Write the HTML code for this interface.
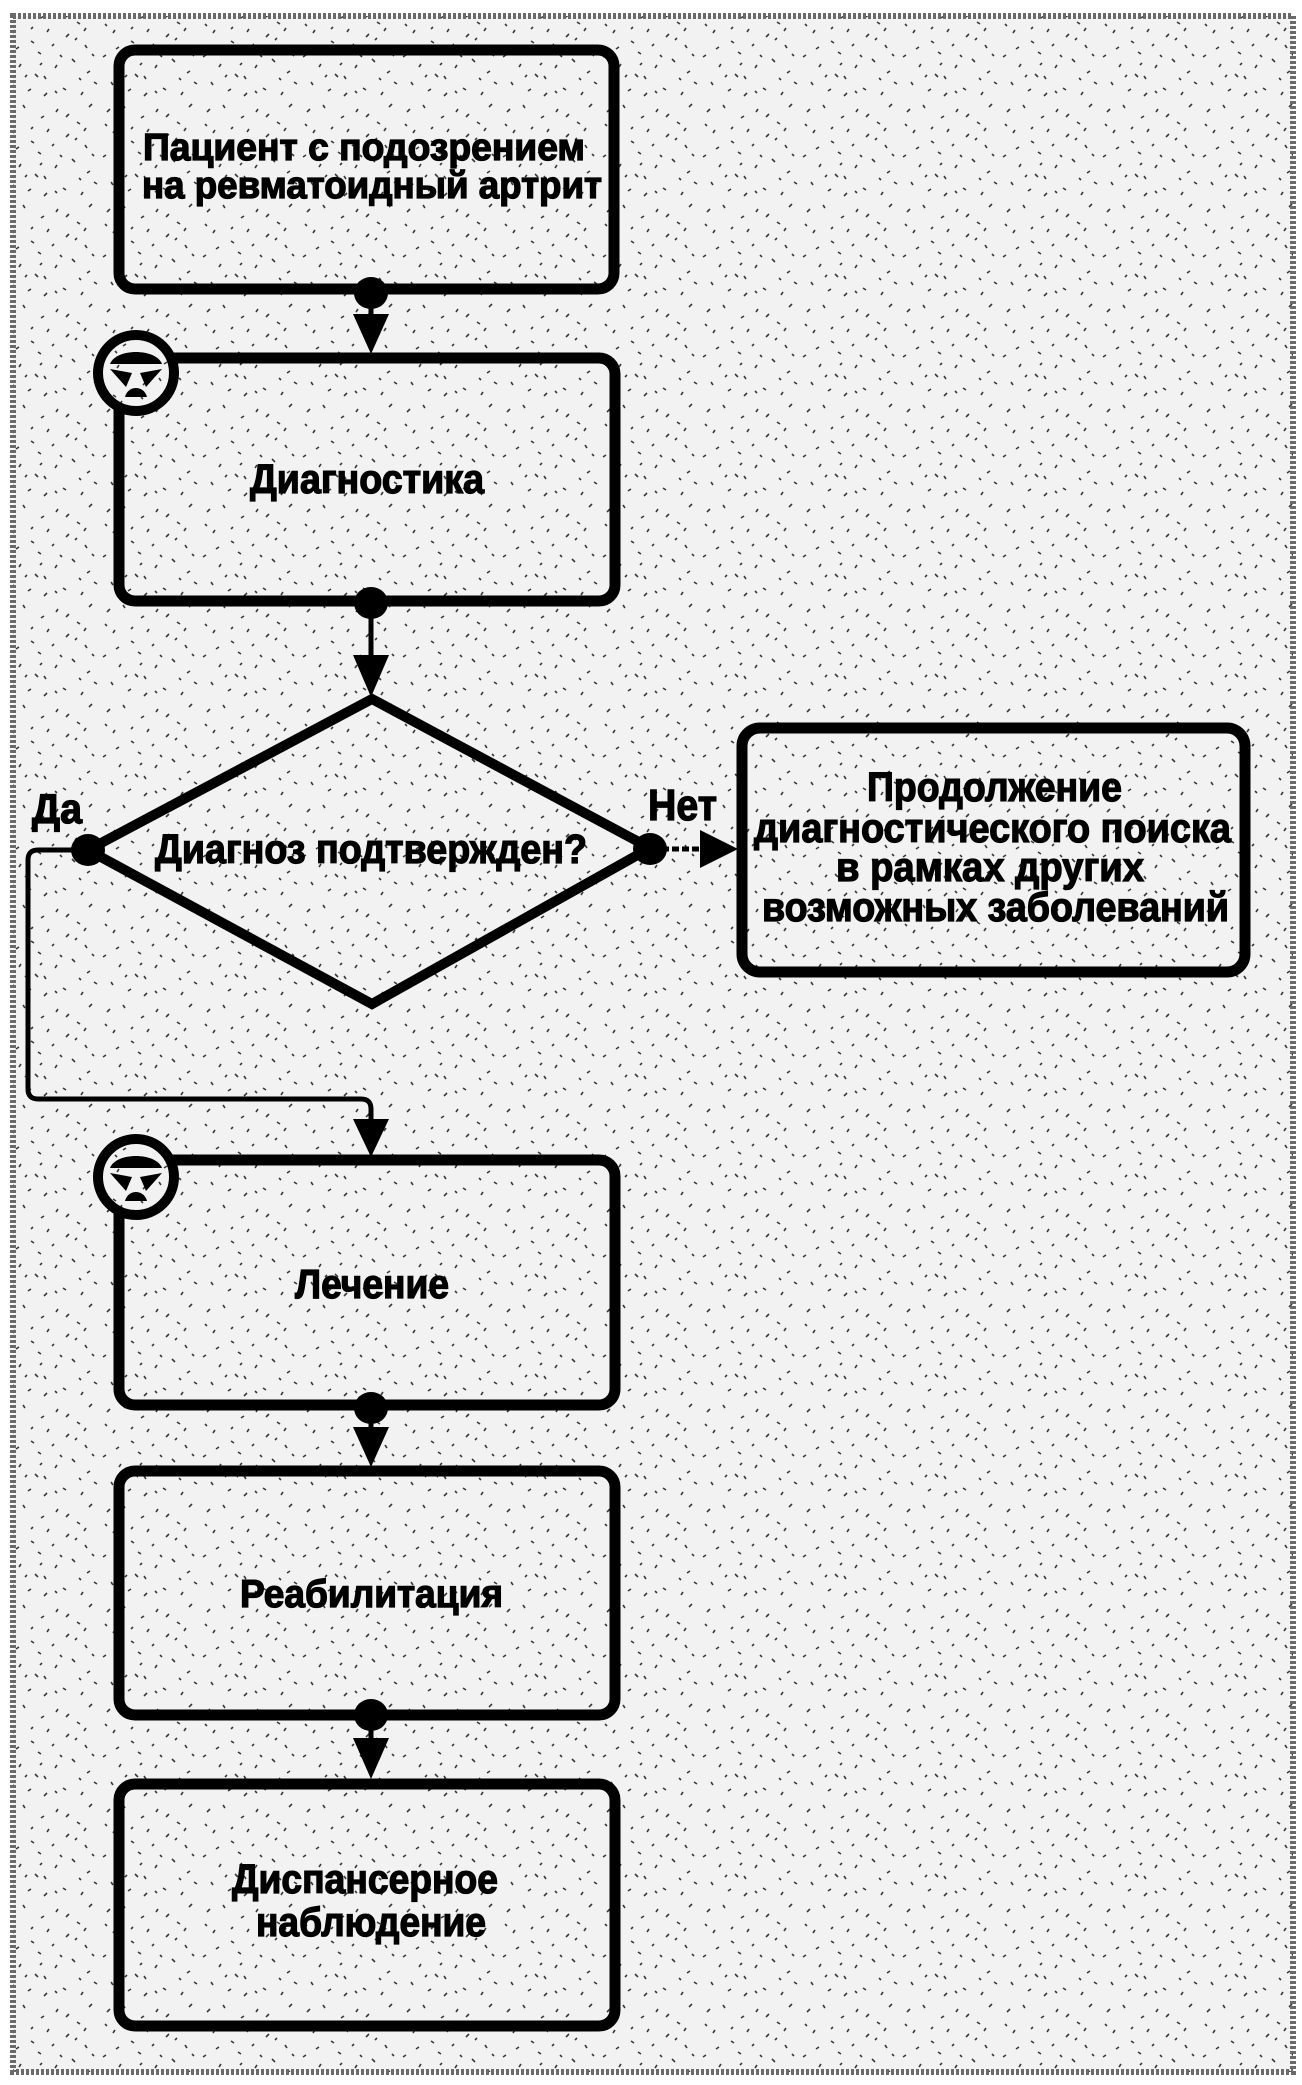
<!DOCTYPE html>
<html>
<head>
<meta charset="utf-8">
<style>
  html, body { margin: 0; padding: 0; background: #fff; }
  body { width: 1302px; height: 2085px; overflow: hidden; }
  svg { display: block; }
  text { font-family: "Liberation Sans", "DejaVu Sans", sans-serif; font-weight: bold; fill: #000; stroke: #000; stroke-width: 1.3; }
</style>
</head>
<body>
<svg width="1302" height="2085" viewBox="0 0 1302 2085" xmlns="http://www.w3.org/2000/svg">
  <defs>
    <pattern id="bg" patternUnits="userSpaceOnUse" width="100" height="100">
      <rect width="100" height="100" fill="#f2f2f2"/>
      <path d="M7 12l3 -3 M23 5l2 3 M41 18l3 -2 M58 9l-2 3 M77 22l3 2 M92 4l-3 3 M13 33l2 -3 M31 41l3 2 M49 29l-2 3 M66 37l3 -3 M85 45l2 3 M3 57l3 -2 M21 64l-2 3 M38 52l3 2 M55 68l2 -3 M72 59l3 3 M90 71l-3 2 M11 82l2 3 M28 91l3 -2 M46 79l-2 -3 M63 88l3 2 M81 95l2 -3 M97 84l-3 -2 M35 74l3 3 M52 46l2 -2 M69 14l-3 3 M16 49l3 -2 M86 28l-2 3 M44 96l3 -3 M60 55l2 2 M5 24l2 2 M33 27l-2 2 M75 40l2 -2 M94 56l-2 -2 M25 77l2 -2 M57 93l-2 -2 M79 78l2 2 M42 63l-2 2" stroke="#3a3a3a" stroke-width="1.6" fill="none"/>
    </pattern>
  </defs>

  <rect width="1302" height="2085" fill="#fff"/>
  <rect x="13" y="16" width="1280" height="2056" fill="url(#bg)" stroke="#6a6a6a" stroke-width="6" stroke-dasharray="3 2"/>

  <!-- Boxes -->
  <g fill="none" stroke="#000" stroke-width="11">
    <rect x="119" y="50" width="495" height="239" rx="16"/>
    <rect x="119" y="358" width="496" height="243" rx="16"/>
    <rect x="742" y="728" width="503" height="244" rx="18"/>
    <rect x="119" y="1160" width="496" height="245" rx="16"/>
    <rect x="119" y="1471" width="496" height="244" rx="16"/>
    <rect x="119" y="1784" width="496" height="242" rx="16"/>
    <polygon points="372,699 650,848 372,1004 88,850" stroke-width="10" stroke-linejoin="miter"/>
  </g>

  <!-- Connectors -->
  <g stroke="#000" stroke-width="5" fill="none">
    <path d="M371 293V320"/>
    <path d="M371 603V660"/>
    <path d="M88 850H38Q28 850 28 860V1089Q28 1099 38 1099H361Q371 1099 371 1109V1125"/>
    <path d="M662 849H705" stroke-dasharray="7 3"/>
    <path d="M371 1408V1430"/>
    <path d="M371 1715V1740"/>
  </g>

  <!-- Arrowheads and dots -->
  <g fill="#000">
    <polygon points="353,314 389,314 371,354"/>
    <polygon points="353,655 389,655 371,697"/>
    <polygon points="353,1119 389,1119 371,1157"/>
    <polygon points="700,830 700,868 738,849"/>
    <polygon points="353,1427 389,1427 371,1467"/>
    <polygon points="353,1738 389,1738 371,1779"/>
    <ellipse cx="371" cy="293" rx="17" ry="16"/>
    <ellipse cx="371" cy="603" rx="17" ry="16"/>
    <ellipse cx="88" cy="850" rx="17" ry="16"/>
    <ellipse cx="650" cy="849" rx="17" ry="16"/>
    <ellipse cx="371" cy="1408" rx="17" ry="16"/>
    <ellipse cx="371" cy="1715" rx="17" ry="16"/>
  </g>

  <!-- Icons -->
  <g transform="translate(136,373)">
    <circle r="38" fill="url(#bg)" stroke="#000" stroke-width="10"/>
    <path d="M-26 -9 C-20 -25 20 -25 26 -9 Z" fill="#000"/>
    <polygon points="-26,-4 -4,0 -10,14" fill="#000"/>
    <polygon points="26,-4 4,0 10,14" fill="#000"/>
    <path d="M-11 24 C-8 12 8 12 11 24 Z" fill="#000"/>
  </g>
  <g transform="translate(136,1177)">
    <circle r="38" fill="url(#bg)" stroke="#000" stroke-width="10"/>
    <path d="M-26 -9 C-20 -25 20 -25 26 -9 Z" fill="#000"/>
    <polygon points="-26,-4 -4,0 -10,14" fill="#000"/>
    <polygon points="26,-4 4,0 10,14" fill="#000"/>
    <path d="M-11 24 C-8 12 8 12 11 24 Z" fill="#000"/>
  </g>

  <!-- Text -->
  <text x="143" y="160" font-size="38" textLength="442" lengthAdjust="spacingAndGlyphs">Пациент с подозрением</text>
  <text x="142" y="198" font-size="38" textLength="460" lengthAdjust="spacingAndGlyphs">на ревматоидный артрит</text>

  <text x="250" y="493" font-size="41" textLength="234" lengthAdjust="spacingAndGlyphs">Диагностика</text>

  <text x="155" y="863" font-size="41" textLength="432" lengthAdjust="spacingAndGlyphs">Диагноз подтвержден?</text>
  <text x="32" y="823" font-size="42" textLength="50" lengthAdjust="spacingAndGlyphs">Да</text>
  <text x="648" y="820" font-size="44" textLength="69" lengthAdjust="spacingAndGlyphs">Нет</text>

  <text x="867" y="801" font-size="41" textLength="255" lengthAdjust="spacingAndGlyphs">Продолжение</text>
  <text x="754" y="842" font-size="41" textLength="477" lengthAdjust="spacingAndGlyphs">диагностического поиска</text>
  <text x="836" y="881" font-size="41" textLength="308" lengthAdjust="spacingAndGlyphs">в рамках других</text>
  <text x="762" y="921" font-size="41" textLength="467" lengthAdjust="spacingAndGlyphs">возможных заболеваний</text>

  <text x="295" y="1298" font-size="41" textLength="154" lengthAdjust="spacingAndGlyphs">Лечение</text>
  <text x="240" y="1607" font-size="39" textLength="263" lengthAdjust="spacingAndGlyphs">Реабилитация</text>
  <text x="232" y="1893" font-size="41" textLength="266" lengthAdjust="spacingAndGlyphs">Диспансерное</text>
  <text x="256" y="1936" font-size="41" textLength="230" lengthAdjust="spacingAndGlyphs">наблюдение</text>
</svg>
</body>
</html>
